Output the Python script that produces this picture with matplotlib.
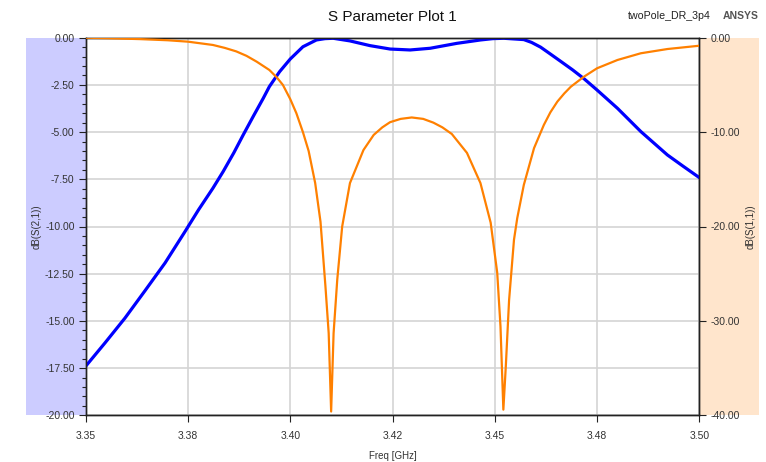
import matplotlib
matplotlib.use("Agg")
import matplotlib.pyplot as plt
from matplotlib.patches import Rectangle
from matplotlib.ticker import MultipleLocator, FixedLocator

plt.rcParams['font.family'] = ['Liberation Sans', 'DejaVu Sans']

# dB(S(2,1)) - transmission, left axis
freq_s21 = [3.3500, 3.3547, 3.3596, 3.3645, 3.3694, 3.3743, 3.3776, 3.3811,
            3.3836, 3.3862, 3.3885, 3.3910, 3.3934, 3.3949, 3.3974, 3.4000,
            3.4031, 3.4064, 3.4085, 3.4105, 3.4146, 3.4195, 3.4244, 3.4293,
            3.4342, 3.4407, 3.4465, 3.4495, 3.4522, 3.4571, 3.4590, 3.4612,
            3.4635, 3.4661, 3.4690, 3.4718, 3.4750, 3.4800, 3.4857, 3.4922,
            3.4960, 3.5000]
s21_db = [-17.40, -16.17, -14.85, -13.40, -11.93, -10.26, -9.11, -7.97,
          -7.09, -6.10, -5.15, -4.15, -3.21, -2.59, -1.80, -1.13,
          -0.48, -0.12, -0.05, -0.03, -0.17, -0.42, -0.60, -0.65,
          -0.56, -0.30, -0.12, -0.05, -0.03, -0.10, -0.25, -0.50,
          -0.85, -1.25, -1.70, -2.17, -2.77, -3.74, -4.97, -6.21,
          -6.80, -7.41]

# dB(S(1,1)) - reflection, right axis
freq_s11 = [3.3500, 3.3550, 3.3633, 3.3700, 3.3750, 3.3811, 3.3840, 3.3868,
            3.3893, 3.3918, 3.3949, 3.3967, 3.3982, 3.4000, 3.4015, 3.4031,
            3.4045, 3.4061, 3.4074, 3.4086, 3.4094, 3.4100, 3.4106, 3.4115,
            3.4127, 3.4146, 3.4179, 3.4204, 3.4225, 3.4244, 3.4270, 3.4297,
            3.4325, 3.4350, 3.4372, 3.4395, 3.4432, 3.4465, 3.4490, 3.4506,
            3.4514, 3.4521, 3.4527, 3.4535, 3.4547, 3.4555, 3.4571, 3.4596,
            3.4620, 3.4636, 3.4653, 3.4670, 3.4686, 3.4718, 3.4750, 3.4800,
            3.4857, 3.4922, 3.5000]
s11_db = [0.00, -0.05, -0.15, -0.27, -0.42, -0.77, -1.08, -1.45,
          -1.92, -2.54, -3.42, -4.20, -5.00, -6.50, -8.00, -10.00,
          -12.00, -15.40, -19.50, -26.30, -31.30, -39.60, -31.30, -25.60,
          -20.00, -15.40, -11.90, -10.30, -9.50, -8.95, -8.60, -8.45,
          -8.60, -9.00, -9.50, -10.20, -12.20, -15.40, -19.60, -24.90,
          -30.60, -39.40, -34.80, -27.80, -21.40, -19.10, -15.60, -11.70,
          -9.24, -7.90, -6.77, -5.90, -5.19, -4.13, -3.24, -2.36,
          -1.65, -1.20, -0.85]

x_ticks = [3.35, 3.375, 3.40, 3.425, 3.45, 3.475, 3.50]
x_labels = ['3.35', '3.38', '3.40', '3.42', '3.45', '3.48', '3.50']

W, H = 766, 462
fig = plt.figure(figsize=(W / 100, H / 100), dpi=100)

# axes box in pixels
x0, x1 = 85.7, 699.3
y0, y1 = 37.7, 415.3
ax = fig.add_axes([x0 / W, 1 - y1 / H, (x1 - x0) / W, (y1 - y0) / H])

# coloured axis bands behind the tick labels
fig.patches.append(Rectangle((26 / W, 1 - y1 / H), (x0 - 26) / W, (y1 - y0) / H,
                             transform=fig.transFigure, facecolor='#ccccff',
                             edgecolor='none', zorder=-5))
fig.patches.append(Rectangle((x1 / W, 1 - y1 / H), (759 - x1) / W, (y1 - y0) / H,
                             transform=fig.transFigure, facecolor='#ffe5cc',
                             edgecolor='none', zorder=-5))

ax.plot(freq_s21, s21_db, color='#0000ff', lw=2.3, zorder=3)
ax.set_xlim(3.35, 3.50)
ax.set_ylim(-20, 0)
ax.xaxis.set_major_locator(FixedLocator(x_ticks))
ax.set_xticklabels(x_labels)
ax.yaxis.set_major_locator(MultipleLocator(2.5))
ax.yaxis.set_minor_locator(MultipleLocator(0.5))
ax.yaxis.set_major_formatter(lambda v, p: f'{v:.2f}')
ax.grid(True, which='major', color='#d4d4d4', lw=1.2)
ax.set_axisbelow(True)

ax2 = ax.twinx()
ax2.plot(freq_s11, s11_db, color='#ff8000', lw=1.6, zorder=3)
ax2.set_ylim(-40, 0)
ax2.yaxis.set_major_locator(MultipleLocator(10))
ax2.yaxis.set_major_formatter(lambda v, p: f'{v:.2f}')

for a in (ax, ax2):
    for s in a.spines.values():
        s.set_color('#222222')
        s.set_linewidth(1.0)

ax.tick_params(axis='both', which='major', length=5, width=0.8, colors='#222222',
               labelsize=7.5, labelcolor='#333333', pad=3)
ax.tick_params(axis='x', pad=6)
ax.tick_params(axis='y', which='minor', length=3, width=0.8, colors='#222222')
ax2.tick_params(axis='y', which='major', length=5, width=0.8, colors='#222222',
                labelsize=7.5, labelcolor='#333333', pad=3)

ax.set_xlabel('Freq [GHz]', fontsize=7, color='#333333')
ax.xaxis.set_label_coords(0.5, -0.095)
ax.set_ylabel('dB(S(2,1))', fontsize=7, color='#333333')
ax.yaxis.set_label_coords(-0.072, 0.5)
ax2.set_ylabel('dB(S(1,1))', fontsize=7, color='#333333')
ax2.yaxis.set_label_coords(1.076, 0.5)

fig.text(392 / W, 1 - 17 / H, 'S Parameter Plot 1', ha='center', va='center',
         fontsize=11, color='#111111')
fig.text(669 / W, 1 - 16 / H, 'twoPole_DR_3p4', ha='center', va='center',
         fontsize=7.7, color='#222222')
fig.text(741 / W, 1 - 16 / H, 'ANSYS', ha='center', va='center',
         fontsize=7.5, fontweight='bold', color='#555555')

fig.savefig('out.png', dpi=100)
